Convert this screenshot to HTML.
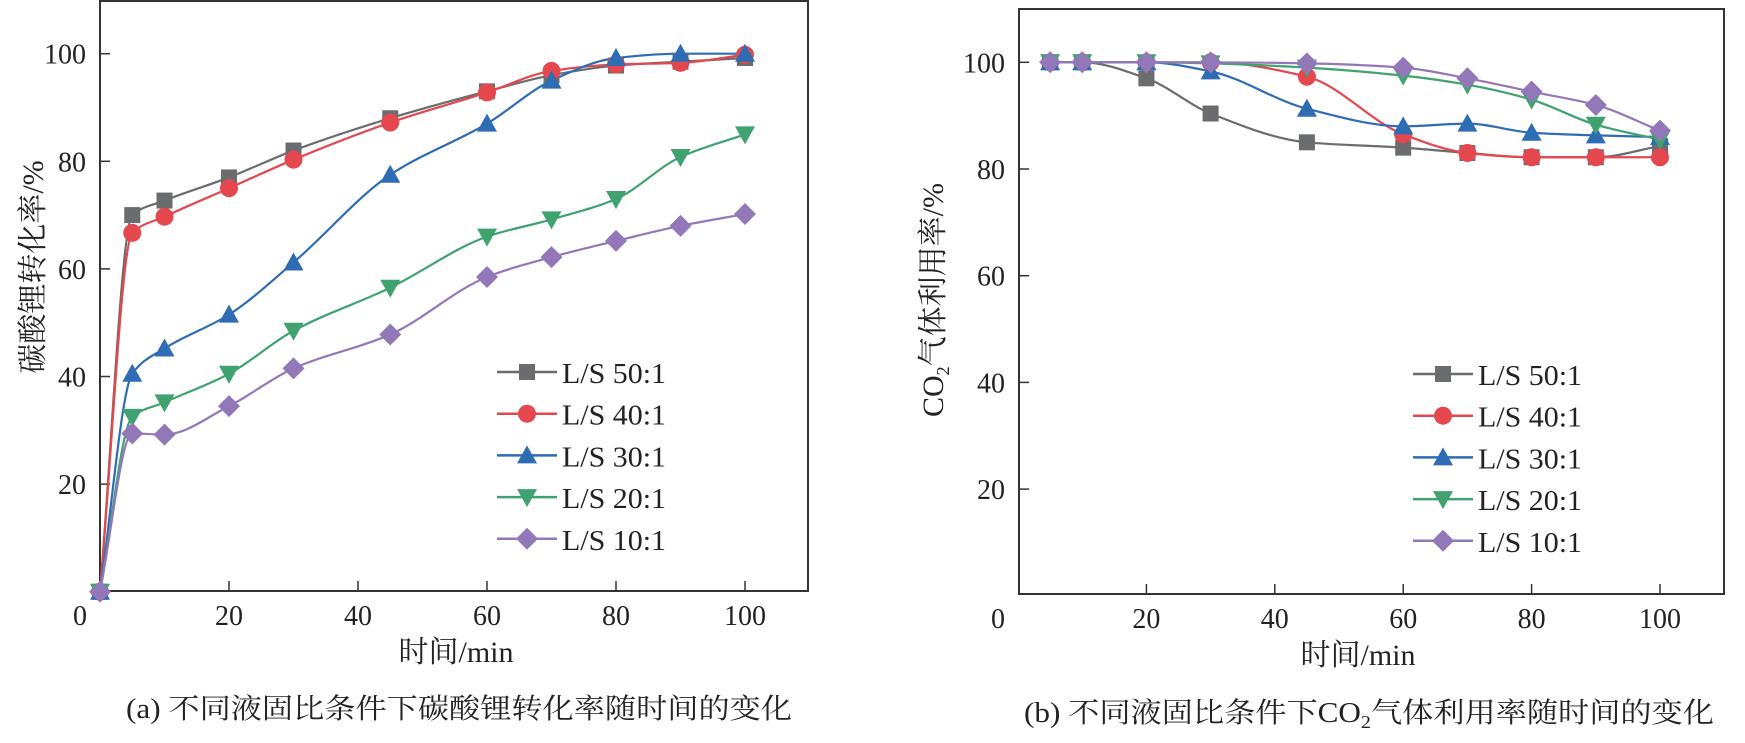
<!DOCTYPE html>
<html><head><meta charset="utf-8"><style>
html,body{margin:0;padding:0;background:#fff;}
svg{display:block;font-family:"Liberation Serif","Noto Serif CJK SC",serif;}
</style></head><body>
<svg id="fig" width="1745" height="743" viewBox="0 0 1745 743" xmlns="http://www.w3.org/2000/svg"></svg>
<script>
// ---- data ----
const seriesNames = ["L/S 50:1","L/S 40:1","L/S 30:1","L/S 20:1","L/S 10:1"];
const timesA = [0,5,10,20,30,45,60,70,80,90,100];
const a50 = [0,70,72.7,77,82,88,93,96,97.8,98.5,99.2];
const a40 = [0,66.7,69.7,75,80.3,87.2,92.8,96.8,98,98.3,99.8];
const a30 = [0,40.5,45.2,51.5,61.2,77.5,87,95,99.2,100,100];
const a20 = [0,32.5,35.2,40.5,48.5,56.5,66,69.2,73,80.8,85];
const a10 = [0,29.4,29.2,34.5,41.5,47.8,58.5,62.2,65.2,68,70.2];
const timesB = [5,10,20,30,45,60,70,80,90,100];
const b50 = [100,100,97,90.4,85,84,83,82.2,82.2,84.3];
const b40 = [100,100,100,100,97.3,86.5,83,82.2,82.2,82.2];
const b30 = [100,100,100,98.3,91.3,88,88.5,86.8,86.3,86];
const b20 = [100,100,100,99.8,99,97.5,95.8,93,88.3,85.5];
const b10 = [100,100,100,100,99.8,99,97,94.5,92,87.2];
const xTicks = [0,20,40,60,80,100];
const yTicks = [20,40,60,80,100];

const colors = ["#6b6c6e","#e4474e","#2e6cb4","#40a36f","#9378b9"];
const markers = ["square","circle","up","down","diamond"];
const NS = "http://www.w3.org/2000/svg";
const svg = document.getElementById("fig");
function el(tag, attrs, parent){const e=document.createElementNS(NS,tag);for(const k in attrs)e.setAttribute(k,attrs[k]);(parent||svg).appendChild(e);return e;}

function marker(g, type, x, y, c){
  let m;
  if(type==="square") m=el("rect",{x:x-8,y:y-8,width:16,height:16,fill:c},g);
  else if(type==="circle") m=el("circle",{cx:x,cy:y,r:9,fill:c},g);
  else if(type==="up") m=el("polygon",{points:`${x},${y-10} ${x+10},${y+8} ${x-10},${y+8}`,fill:c},g);
  else if(type==="down") m=el("polygon",{points:`${x},${y+10} ${x+10},${y-8} ${x-10},${y-8}`,fill:c},g);
  else m=el("polygon",{points:`${x},${y-11} ${x+11},${y} ${x},${y+11} ${x-11},${y}`,fill:c},g);
  return m;
}
// monotone cubic (Fritsch-Carlson)
function smoothPath(pts){
  const n=pts.length, d=[], m=new Array(n);
  for(let i=0;i<n-1;i++) d.push((pts[i+1][1]-pts[i][1])/(pts[i+1][0]-pts[i][0]));
  m[0]=d[0]; m[n-1]=d[n-2];
  for(let i=1;i<n-1;i++){
    if(d[i-1]*d[i]<=0) m[i]=0;
    else { const h0=pts[i][0]-pts[i-1][0], h1=pts[i+1][0]-pts[i][0];
      const w1=2*h1+h0, w2=h1+2*h0; m[i]=(w1+w2)/(w1/d[i-1]+w2/d[i]); }
  }
  let s=`M${pts[0][0]},${pts[0][1]}`;
  for(let i=0;i<n-1;i++){
    const h=(pts[i+1][0]-pts[i][0])/3;
    s+=` C${pts[i][0]+h},${pts[i][1]+m[i]*h} ${pts[i+1][0]-h},${pts[i+1][1]-m[i+1]*h} ${pts[i+1][0]},${pts[i+1][1]}`;
  }
  return s;
}

function chart(cfg){
  const g=el("g",{});
  
  
  const X=v=>cfg.x0+v*cfg.sx, Y=v=>cfg.y0-v*cfg.sy;
  const frame=el("rect",{x:cfg.left,y:cfg.top,width:cfg.right-cfg.left,height:cfg.bottom-cfg.top,fill:"none",stroke:"#333",'stroke-width':2},g);
  
  
  xTicks.forEach(v=>{
    if(v>0){const t=el("line",{x1:X(v),x2:X(v),y1:cfg.bottom,y2:cfg.bottom-10,stroke:"#333",'stroke-width':1.5},g);
    
    }
    const lx = v===0 ? cfg.zeroX : X(v);
    const tx=el("text",{x:lx,y:cfg.bottom+34,'font-size':28,'text-anchor':'middle',fill:"#222"},g);
    tx.textContent=v;
    
    
  });
  yTicks.forEach(v=>{
    const t=el("line",{x1:cfg.left,x2:cfg.left+10,y1:Y(v),y2:Y(v),stroke:"#333",'stroke-width':1.5},g);
    
    
    const tx=el("text",{x:cfg.left-14,y:Y(v)+10,'font-size':28,'text-anchor':'end',fill:"#222"},g);
    tx.textContent=v;
    
    
  });
  cfg.series.forEach((vals,i)=>{
    const pts=vals.map((v,j)=>[X(cfg.times[j]),Y(v)]);
    const p=el("path",{d:smoothPath(pts),fill:"none",stroke:colors[i],'stroke-width':2.2},g);
    
    
  });
  cfg.series.forEach((vals,i)=>{
    vals.forEach((v,j)=>{
      const m=marker(g,markers[i],X(cfg.times[j]),Y(v),colors[i]);
      
      
    });
  });
  seriesNames.forEach((n,i)=>{
    const ly=cfg.legY+i*cfg.legDy;
    const lg=el("g",{},g);
    
    
    el("line",{x1:cfg.legX,x2:cfg.legX+60,y1:ly,y2:ly,stroke:colors[i],'stroke-width':2.5},lg);
    marker(lg,markers[i],cfg.legX+30,ly,colors[i]);
    const t=el("text",{x:cfg.legX+65,y:ly+11,'font-size':28,fill:"#222",textLength:104,lengthAdjust:"spacingAndGlyphs"},lg);
    t.textContent=n;
  });
}

chart({name:"chart-a",left:100,right:808,top:1,bottom:591,x0:100,sx:6.45,y0:591.7,sy:5.38,zeroX:80,
  times:timesA,series:[a50,a40,a30,a20,a10],legX:497,legY:372,legDy:41.7});
chart({name:"chart-b",left:1019,right:1724,top:9,bottom:594,x0:1018,sx:6.42,y0:595.8,sy:5.335,zeroX:998,
  times:timesB,series:[b50,b40,b30,b20,b10],legX:1413,legY:374,legDy:41.7});

function txt(x,y,s,attrs,name){const t=el("text",Object.assign({x:x,y:y,'font-size':28,fill:"#222",'text-anchor':'middle'},attrs||{}));t.innerHTML=s;return t;}
txt(456,662,"时间/min",{'font-size':30},"x-axis-title-a");
txt(1358,665,"时间/min",{'font-size':30},"x-axis-title-b");
txt(0,0,"碳酸锂转化率/%",{transform:"translate(43,267) rotate(-90)",'font-size':30},"y-axis-title-a");
txt(0,0,'CO<tspan font-size="18" dy="6">2</tspan><tspan dy="-6">气体利用率/%</tspan>',{transform:"translate(943,300) rotate(-90)",'font-size':30},"y-axis-title-b");
txt(459,718,"(a) 不同液固比条件下碳酸锂转化率随时间的变化",{textLength:666,lengthAdjust:"spacingAndGlyphs"},"caption-a");
txt(1369,722,'(b) 不同液固比条件下CO<tspan font-size="18" dy="6">2</tspan><tspan dy="-6">气体利用率随时间的变化</tspan>',{textLength:690,lengthAdjust:"spacingAndGlyphs"},"caption-b");
</script>
</body></html>
